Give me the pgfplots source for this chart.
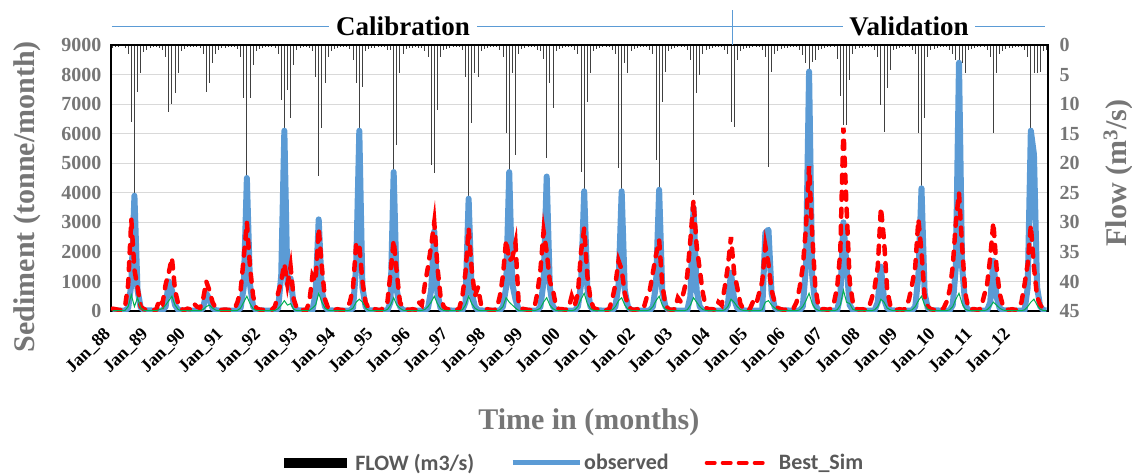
\documentclass[border=0pt]{standalone}
\usepackage{fontspec}
\setmainfont{Liberation Serif}
\newfontfamily\legfont{Carlito}
\usepackage{pgfplots}
\usepackage{pgfplotstable}
\pgfplotsset{compat=1.18}
\definecolor{obsblue}{RGB}{91,155,213}
\definecolor{simred}{RGB}{255,0,0}
\definecolor{grnline}{RGB}{0,176,80}
\definecolor{gridgray}{RGB}{217,217,217}
\definecolor{axgray}{RGB}{118,118,118}
\definecolor{leggray}{RGB}{89,89,89}
\tikzset{xlab/.style={xshift=-24pt, yshift=-40pt, rotate=45, inner sep=1pt, font=\bfseries\fontsize{18}{20}\selectfont}}

\pgfplotstableread{
m obs sim grn flw
0 20 80 10 0.5
1 15 60 10 0.3
2 10 40 10 0.3
3 10 30 10 0.2
4 20 150 20 0.5
5 100 900 150 1.5
6 900 3100 550 13
7 3900 1400 150 30
8 700 800 450 8
9 120 150 100 4.8
10 30 60 20 1.2
11 20 40 10 0.8
12 20 40 10 0.5
13 15 30 10 0.4
14 10 50 10 0.3
15 10 400 50 0.5
16 20 250 80 0.8
17 150 900 200 2
18 1000 1300 350 11.3
19 700 1800 500 9.9
20 200 700 200 8.2
21 40 250 50 4.8
22 20 60 10 1
23 15 40 10 0.6
24 15 80 10 0.4
25 10 50 10 0.3
26 10 250 10 0.3
27 10 150 10 0.3
28 15 100 10 0.5
29 100 400 50 1.5
30 600 1000 150 8
31 400 700 200 6.5
32 100 300 100 3
33 30 100 30 1.5
34 15 50 10 0.8
35 10 40 10 0.5
36 20 50 10 0.5
37 15 40 10 0.4
38 10 30 10 0.3
39 10 60 10 0.3
40 20 300 20 0.6
41 100 700 100 2
42 800 1800 300 9
43 4500 3000 500 30
44 900 1500 250 9
45 150 500 80 3.4
46 30 100 20 1
47 20 50 10 0.6
48 20 40 10 0.5
49 15 30 10 0.3
50 10 30 10 0.3
51 10 40 10 0.3
52 20 150 20 0.5
53 80 600 80 1.5
54 1200 1000 200 9.3
55 6100 1600 350 30
56 900 900 200 7.6
57 1100 1500 250 12.4
58 200 400 60 3.4
59 30 80 10 0.8
60 20 60 10 0.5
61 15 40 10 0.4
62 10 30 10 0.3
63 10 300 20 0.5
64 20 1200 100 1
65 600 1000 200 5.4
66 3100 2800 600 22.2
67 700 1500 300 14
68 150 400 100 6.5
69 30 100 30 2
70 20 60 10 1
71 15 40 10 0.6
72 20 60 10 0.5
73 15 40 10 0.4
74 10 30 10 0.3
75 10 100 10 0.3
76 20 300 30 0.6
77 100 800 100 2.5
78 1500 2300 300 6.5
79 6100 2250 400 30
80 800 1000 300 7.1
81 150 300 100 1
82 30 80 20 0.6
83 20 50 10 0.5
84 20 60 10 0.5
85 15 40 10 0.4
86 10 30 10 0.3
87 10 200 10 0.3
88 20 300 50 0.8
89 300 1300 200 0.8
90 4700 2400 450 25
91 700 1300 200 16.9
92 150 300 100 4.8
93 30 100 30 1.5
94 20 60 10 0.7
95 15 40 10 0.5
96 20 60 10 0.5
97 15 40 10 0.4
98 10 300 10 0.5
99 10 200 20 0.5
100 20 900 50 1
101 100 1500 150 2
102 700 2200 300 20.3
103 2700 3000 500 21.7
104 600 1500 250 11
105 100 500 80 2
106 30 150 20 0.8
107 20 60 10 0.6
108 20 60 10 0.5
109 15 40 10 0.4
110 10 30 10 0.3
111 10 80 10 0.3
112 20 500 40 0.8
113 300 1300 200 5.4
114 3800 2800 500 28
115 600 1400 250 13.2
116 150 500 100 4.8
117 30 800 30 5.4
118 20 200 10 1
119 15 60 10 0.6
120 20 60 10 0.5
121 15 40 10 0.4
122 10 30 10 0.3
123 10 80 10 0.3
124 20 500 40 0.8
125 150 1200 150 2
126 800 2400 450 14.9
127 4700 1700 300 27
128 900 1800 200 4.8
129 400 2300 100 18.6
130 50 300 20 1.5
131 20 80 10 0.6
132 20 60 10 0.5
133 15 40 10 0.4
134 10 30 10 0.3
135 10 80 10 0.3
136 20 600 40 0.8
137 150 1400 100 1
138 1000 2700 300 2.3
139 4550 2000 450 19.2
140 800 1000 200 6.5
141 150 700 80 10.7
142 30 150 20 1
143 20 60 10 0.6
144 20 60 10 0.5
145 15 40 10 0.4
146 10 80 10 0.3
147 10 500 10 0.3
148 20 200 40 0.8
149 150 600 150 1.5
150 900 2000 400 21.4
151 4050 2800 600 28
152 800 1200 250 9.6
153 150 400 80 4.8
154 30 100 20 1
155 20 60 10 0.6
156 20 60 10 0.5
157 15 40 10 0.4
158 10 30 10 0.3
159 10 60 10 0.3
160 20 400 40 0.8
161 150 900 150 1.5
162 900 1700 350 20.8
163 4050 1400 450 28
164 700 600 200 3.1
165 150 200 60 4.8
166 30 60 20 1
167 20 40 10 0.6
168 20 60 10 0.5
169 15 40 10 0.4
170 10 80 10 0.3
171 10 450 10 0.3
172 20 700 40 0.8
173 150 1300 150 1.5
174 900 1900 350 19.4
175 4100 2400 500 28
176 700 900 200 9.6
177 150 200 60 4.5
178 30 60 20 1
179 20 40 10 0.6
180 20 60 10 0.5
181 15 450 10 0.4
182 10 300 10 0.3
183 10 700 10 0.3
184 20 1200 40 0.8
185 500 2400 200 2.5
186 3500 3750 450 25.4
187 700 2200 300 8.2
188 150 1400 150 5
189 30 600 50 1.5
190 20 100 20 0.8
191 15 60 10 0.6
192 20 60 10 0.5
193 15 40 10 0.4
194 10 300 10 0.3
195 10 200 10 0.3
196 20 800 40 0.8
197 200 1500 150 1.5
198 1300 2500 400 13
199 400 1300 300 13.8
200 100 800 150 2.5
201 30 250 50 1
202 20 60 20 0.6
203 15 40 10 0.5
204 20 60 10 0.5
205 15 300 10 0.4
206 10 200 10 0.3
207 10 600 10 0.3
208 20 1000 40 0.8
209 2650 2200 300 2
210 2750 1600 350 20.6
211 600 700 200 4.5
212 120 300 100 1.5
213 30 100 30 1
214 20 60 10 0.6
215 15 40 10 0.5
216 20 60 10 0.5
217 15 40 10 0.4
218 10 80 10 0.3
219 10 300 10 0.3
220 20 800 40 0.8
221 150 1500 150 1.7
222 1500 2800 350 3.1
223 8100 4900 600 10
224 1200 2600 250 2.8
225 200 800 80 2.5
226 30 150 20 0.8
227 20 60 10 0.6
228 20 60 10 0.5
229 15 40 10 0.4
230 10 80 10 0.3
231 10 300 10 0.3
232 20 800 40 2.3
233 500 2000 200 8.7
234 3000 6200 700 13.5
235 1500 3500 300 13.5
236 200 1000 250 5.9
237 30 300 60 1.5
238 20 80 20 0.6
239 15 50 10 0.5
240 20 60 10 0.5
241 15 40 10 0.4
242 10 80 10 0.3
243 10 400 10 0.3
244 20 800 40 0.8
245 300 1500 150 2
246 1500 3500 400 10.1
247 400 2400 300 14.7
248 100 700 100 7.3
249 30 200 40 4.2
250 20 60 10 0.8
251 15 40 10 0.6
252 20 60 10 0.5
253 15 40 10 0.4
254 10 80 10 0.3
255 10 400 10 0.3
256 20 900 40 0.8
257 150 1500 150 1.5
258 1200 3100 350 14.9
259 4150 2000 500 28
260 600 500 200 12.4
261 100 150 60 2
262 30 60 20 0.8
263 20 40 10 0.6
264 20 60 10 0.5
265 15 40 10 0.4
266 10 80 10 0.3
267 10 300 10 0.3
268 20 700 40 0.8
269 200 1500 150 1.5
270 1500 3000 400 2.5
271 8400 4000 600 10
272 1500 2200 250 3.1
273 200 600 60 4.8
274 30 100 20 0.8
275 20 60 10 0.6
276 20 60 10 0.5
277 15 40 10 0.4
278 10 80 10 0.3
279 10 500 10 0.3
280 20 900 40 0.8
281 300 1800 150 2
282 1700 3000 300 14.9
283 500 1500 200 4.8
284 100 600 100 1.5
285 30 200 40 1
286 20 60 10 0.6
287 15 40 10 0.5
288 20 60 10 0.5
289 15 40 10 0.4
290 10 80 10 0.3
291 10 300 10 0.3
292 20 900 40 0.8
293 800 1600 150 2
294 6100 2900 300 25
295 5300 1500 400 4.8
296 800 500 200 4.8
297 150 200 60 4.5
298 30 80 20 1
299 20 40 10 0.8
}\data

\pgfplotsset{base/.style={scale only axis, width=937pt, height=266pt,
  xmin=-0.5, xmax=299.5, at={(0pt,0pt)}, anchor=south west,
  major tick length=0pt, scaled ticks=false,
  /pgf/number format/1000 sep={},
  /pgf/number format/assume math mode=true}}

\begin{document}
\begin{tikzpicture}
% background axis: grid, tick labels, titles
\begin{axis}[base, ymin=0, ymax=9000,
  ytick={0,1000,...,9000}, ymajorgrids,
  major grid style={draw=gridgray, line width=1pt},
  axis line style={draw=none},
  xtick={0,12,...,288}, xticklabels={},
  yticklabel style={font=\bfseries\fontsize{20}{24}\selectfont, text=axgray, xshift=-6pt},
  xlabel={Time in (months)}, ylabel={Sediment (tonne/month)},
  every axis x label/.style={at={(axis description cs:0.51,-0.42)}, anchor=center, font=\bfseries\fontsize{30}{34}\selectfont, text=axgray},
  every axis y label/.style={at={(axis description cs:-0.0896,0.43)}, rotate=90, anchor=center, font=\bfseries\fontsize{30}{34}\selectfont, text=axgray},
]
\end{axis}
% flow axis (reversed, right)
\begin{axis}[base, ymin=0, ymax=45, y dir=reverse,
  axis x line=none, axis y line*=right, axis line style={draw=none},
  ytick={0,5,...,45},
  yticklabel style={font=\bfseries\fontsize{20}{24}\selectfont, text=axgray, xshift=8pt},
  ylabel={Flow (m\textsuperscript{3}/s)},
  every axis y label/.style={at={(axis description cs:1.0747,0.519)}, rotate=90, anchor=center, font=\bfseries\fontsize{30}{34}\selectfont, text=axgray},
]
\addplot[ycomb, draw=black!75, line width=0.9pt] table[x=m, y=flw]{\data};
\end{axis}
% sediment series on top
\begin{axis}[base, ymin=0, ymax=9000, xtick=\empty, ytick=\empty,
  axis line style={line width=1.8pt, draw=black},
  legend style={at={(axis description cs:0.4947,-0.571)}, anchor=center,
    draw=none, fill=none, legend columns=3,
    font=\legfont\bfseries\fontsize{22}{26}\selectfont, text=leggray,
    /tikz/every even column/.append style={column sep=34pt}},
  legend cell align=left,
]
\addlegendimage{legend image code/.code={\fill[black] (0pt,-4.5pt) rectangle (62pt,4.5pt); \path (69pt,0pt);}}
\addplot[draw=obsblue, line width=6pt, line join=round,
  legend image code/.code={\draw[obsblue, line width=5pt] (0pt,0pt) -- (67pt,0pt);}]
  table[x=m, y=obs]{\data};
\addplot[draw=simred, line width=4.5pt, line cap=round, dash pattern=on 8pt off 9pt,
  legend image code/.code={\draw[simred, line width=4pt, line cap=round, dash pattern=on 8pt off 8pt] (2pt,0pt) -- (65pt,0pt); \path (70pt,0pt);}]
  table[x=m, y=sim]{\data};
\addplot[draw=grnline, line width=1pt, forget plot] table[x=m, y=grn]{\data};
\legend{FLOW (m3/s), observed, Best\_Sim}
\end{axis}
% x tick labels (rotated 45 degrees), one per January, at the month-axis tick positions
\foreach \i/\yy in {0/88,1/89,2/90,3/91,4/92,5/93,6/94,7/95,8/96,9/97,10/98,11/99,12/00,13/01,14/02,15/03,16/04,17/05,18/06,19/07,20/08,21/09,22/10,23/11,24/12}{
  \node[xlab] at ({(12*\i+0.5)*3.123333pt},0pt) {Jan\symbol{95}\yy};
}
% calibration / validation banner
\draw[obsblue, line width=1pt] (1pt,285pt) -- (934pt,285pt);
\draw[obsblue, line width=1pt] (621pt,266pt) -- (621pt,301pt);
\node[fill=white, inner xsep=7pt, inner ysep=1pt, font=\bfseries\fontsize{27}{30}\selectfont] at (292pt,285pt) {Calibration};
\node[fill=white, inner xsep=6pt, inner ysep=1pt, font=\bfseries\fontsize{27}{30}\selectfont] at (798pt,285pt) {Validation};
\pgfresetboundingbox
\path[use as bounding box] (-111pt,-164pt) rectangle (1021pt,311pt);
\end{tikzpicture}
\end{document}
